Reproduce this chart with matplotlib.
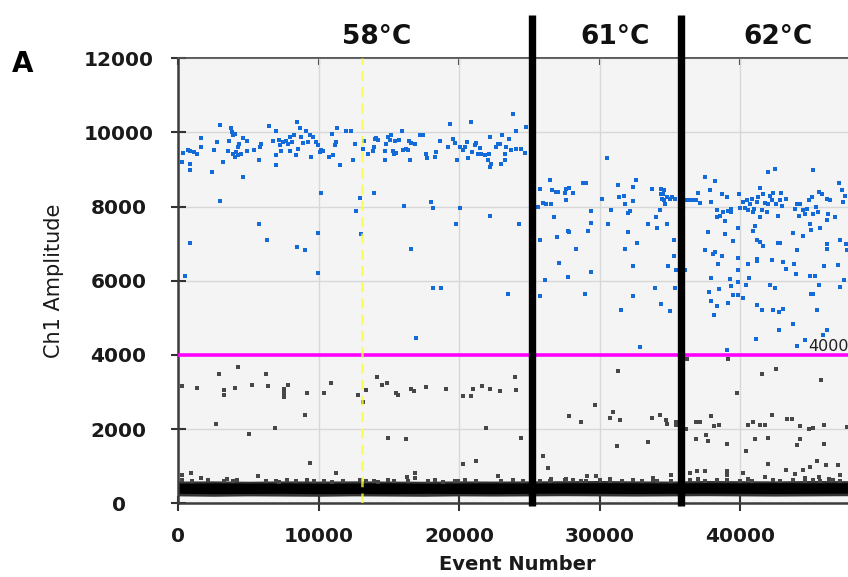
import matplotlib.pyplot as plt
import numpy as np

# droplet amplitudes (event number, Ch1 amplitude) for the three annealing runs
run_names = ['58°C', '61°C', '62°C']
run_breaks = [25220, 35780]
marker_event = 13090
threshold = 4000

x_ticks = [0, 10000, 20000, 30000, 40000]
y_ticks = [0, 2000, 4000, 6000, 8000, 10000, 12000]

blue_58 = [
    (340, 9440), (700, 9530), (870, 9500), (1170, 9470), (1340, 9420), (300, 9200), (870, 9160),
    (870, 8990), (1670, 9860), (1670, 9620), (2430, 8930), (2550, 9540), (2780, 9740), (3020, 10210),
    (3190, 9200), (3540, 9510), (3610, 9780), (3780, 10130), (3850, 10010), (3900, 9920), (4020, 9960),
    (3900, 9420), (4020, 9350), (4140, 9470), (4250, 9600), (4370, 9690), (4250, 9380), (4490, 9420),
    (4610, 8800), (4660, 9860), (4890, 9510), (4890, 9780), (5440, 9530), (5750, 9260), (5800, 9600),
    (5920, 9690), (6440, 10170), (6750, 9780), (6940, 9400), (6990, 10040), (6990, 9110), (7180, 9800),
    (7230, 9650), (7340, 9510), (7460, 9740), (7700, 9780), (7820, 9690), (7940, 9500), (7990, 9870),
    (8130, 9740), (8220, 9920), (8370, 9380), (8460, 10280), (8560, 9560), (8700, 10130), (8770, 9870),
    (8890, 9710), (9120, 10040), (9240, 9740), (9360, 9920), (9480, 9350), (9600, 9870), (9840, 9740),
    (9960, 9650), (10070, 9470), (10190, 9530), (10310, 9500), (10740, 9350), (10980, 9950), (11020, 9380),
    (11140, 9650), (11260, 9740), (11330, 10130), (11550, 9110), (11970, 10050), (12330, 10050),
    (12450, 9260), (12570, 9690), (13160, 9560), (13210, 9770), (13520, 9420),
    (13870, 9510), (13920, 9620), (13990, 9830), (14110, 9860), (14230, 9800), (14700, 9510),
    (14770, 9690), (14700, 9260), (14940, 9870), (15060, 9800), (15180, 9920), (15300, 9510),
    (15340, 9420), (15420, 9770), (15530, 9440), (15720, 9800), (15960, 10040), (16010, 9530),
    (16200, 9560), (16360, 9530), (16440, 9780), (16530, 9260), (16600, 9710), (16840, 9690),
    (17200, 9920), (17430, 9920), (17620, 9420), (17720, 9320), (18260, 9350), (18330, 9470),
    (18670, 9770), (19210, 9620), (19380, 10230), (19570, 9830), (19690, 9710), (19850, 9260),
    (20040, 9600), (20280, 9530), (20400, 9600), (20560, 9740), (20640, 9320), (20870, 10280),
    (20940, 9470), (21110, 9650), (21180, 9710), (21350, 9420), (21510, 9590), (21590, 9410),
    (21820, 9380), (22060, 9260), (22130, 9410), (22230, 9890), (22230, 9080), (22300, 9160),
    (22650, 9600), (22770, 9690), (22940, 9690), (23010, 9160), (23080, 9920), (23250, 9420),
    (23250, 9260), (23320, 9620), (23550, 9830), (23720, 9530), (23840, 10500), (24030, 10040),
    (24080, 9560), (24430, 9560), (24670, 9440), (24740, 10140),
    (3020, 8150), (5750, 7520), (6320, 7090), (8460, 6910), (9050, 6820), (9960, 7290), (10190, 8370),
    (9960, 6210), (870, 7020), (510, 6120), (12920, 8230), (12690, 7880), (12990, 7250), (13940, 8380),
    (16080, 8020), (17980, 8120), (18140, 7970), (20070, 7950), (19760, 7520), (22230, 7750),
    (24270, 7520), (16550, 6860), (18140, 5810), (18690, 5810), (23480, 5650), (16960, 4450),
]

blue_61 = [
    (25740, 8480), (26450, 8720), (26640, 8450), (26880, 8390), (27040, 8390), (27640, 8480),
    (27590, 8190), (27830, 8510), (25620, 7990), (25980, 8100), (26210, 8060), (26570, 8060),
    (26760, 7720), (25740, 7090), (27000, 7180), (27750, 7330), (27110, 6480), (27750, 6100),
    (26090, 6010), (25740, 5580), (30490, 9320), (27520, 8360), (28070, 8360), (28780, 8640),
    (29060, 8640), (30200, 8210), (30840, 7900), (31320, 8570), (31390, 8260), (31720, 8300),
    (31790, 8060), (32030, 7830), (32150, 7880), (32340, 8540), (32340, 8150), (32570, 8720),
    (33690, 8480), (34280, 7900), (34400, 8350), (34470, 8210), (34570, 8450), (34640, 8080),
    (34800, 8260), (34990, 8210), (35350, 8210), (29420, 7870), (29370, 7560), (27800, 7310),
    (29180, 7330), (28350, 6860), (30600, 7520), (32030, 7310), (32670, 7020), (31790, 6850),
    (33450, 7520), (34000, 7720), (34050, 7430), (34800, 7520), (35280, 7090), (34880, 6390),
    (32340, 6390), (29420, 6240), (28940, 5650), (32340, 5580), (33930, 5810), (34350, 5380),
    (35040, 5190), (31550, 5220), (32860, 4220), (35350, 5810), (35420, 6280), (34380, 8480),
    (34520, 8350), (34570, 8170), (35160, 8260), (35280, 6680),
]

blue_62 = [
    (36180, 8170), (36420, 8170), (36660, 8170), (36890, 8170), (37010, 8360), (37130, 8090),
    (37490, 8800), (37840, 8450), (37890, 8120), (38200, 8690), (38320, 7720), (38360, 7900),
    (38550, 7740), (38740, 8350), (38790, 7850), (38910, 7610), (39030, 8270), (39150, 7880),
    (39310, 7940), (39380, 7850), (39930, 8350), (39980, 7970), (40220, 8120), (40330, 7970),
    (40450, 8180), (40570, 7900), (40690, 8080), (40810, 8210), (40930, 7850), (40970, 7940),
    (41160, 8120), (41280, 8260), (41400, 8510), (41400, 7720), (41520, 7920), (41640, 8330),
    (41760, 8090), (41880, 7850), (41990, 8930), (41990, 8080), (42110, 8300), (42230, 8170),
    (42350, 8360), (42470, 9020), (42540, 8060), (42710, 7760), (42830, 8170), (42870, 8360),
    (42940, 8030), (43250, 8210), (43890, 7940), (44060, 8080), (44250, 8080), (44200, 7760),
    (44440, 7900), (44610, 7810), (44720, 7940), (44910, 8170), (45080, 8260), (45150, 8990),
    (45200, 7810), (45390, 7990), (45550, 7850), (45630, 8390), (45790, 8350), (46150, 8210),
    (46190, 7630), (46270, 7810), (46380, 8170), (46740, 7720), (47050, 8630), (47220, 8450),
    (47330, 8120), (47450, 8300),
    (37680, 7310), (38910, 7250), (39500, 7070), (39860, 7430), (40930, 7340), (41050, 7470),
    (38080, 6730), (41160, 7110), (41400, 7040), (41640, 6930), (42710, 7020), (42830, 7020),
    (44060, 6840), (43770, 7290), (44490, 7200), (44960, 7540), (45010, 7360), (45010, 5650),
    (45200, 5650), (45670, 7430), (46150, 7000), (46190, 6860), (45960, 6390), (46980, 6420),
    (47100, 7090), (47520, 7000), (47570, 6820), (45630, 5880), (47100, 5830), (47380, 6010),
    (40640, 6080), (36100, 6280),
    (37490, 6820), (38200, 6770), (38670, 6660), (38430, 6460), (39860, 6620), (39860, 6280),
    (40570, 6460), (41160, 6590), (41210, 6530), (42230, 6550), (43060, 6500), (43250, 6330),
    (43820, 6460), (43960, 6170), (44960, 6120), (45320, 6120), (37890, 6080), (39270, 6060),
    (39860, 5970), (40400, 5900), (39310, 5850), (39500, 5630), (39860, 5610), (40170, 5540),
    (42110, 5900), (42470, 5810), (38510, 5790), (37790, 5700), (41160, 5360), (41520, 5220),
    (42350, 5220), (42780, 5160), (43060, 5250), (45440, 5220), (37890, 5450), (38320, 5310),
    (38130, 5070), (39150, 5400), (43730, 4840), (42780, 4680), (41120, 4440), (44600, 4410),
    (44060, 4230), (46150, 4680), (45860, 4530), (39030, 4130),
]

# rain between the clusters
grey_rain = [
    (320, 3160), (1340, 3120), (2930, 3480), (3290, 3050), (3290, 2930), (4050, 3120), (4280, 3670),
    (5300, 3200), (6250, 3480), (6420, 3160), (7560, 3090), (7560, 2980), (7560, 2870), (7800, 3200),
    (9170, 2970), (10410, 2970), (10880, 3240), (12780, 2930), (13130, 2730), (13370, 3050),
    (14160, 3400), (14490, 3200), (14870, 3240), (15510, 2970), (15630, 2930), (2690, 2150),
    (5070, 1880), (6890, 2040), (9050, 2390), (9410, 1100), (14960, 1760), (16220, 1730), (250, 770),
    (910, 830), (1670, 680), (5660, 730), (6250, 590), (11240, 830),
    (16550, 3090), (16770, 3020), (17670, 3130), (19050, 3090), (20280, 2890), (20870, 2890),
    (20990, 3090), (21660, 3160), (22230, 3090), (22890, 3020), (23960, 3410), (24080, 3050),
    (21890, 2040), (24390, 1770), (20280, 1070), (21180, 1140), (16290, 710), (16890, 830),
    (16890, 670), (22770, 730),
    (25980, 1270), (26330, 950), (27800, 2360), (28700, 2190), (29650, 2660), (30720, 2310),
    (30960, 2460), (31430, 2240), (31310, 3560), (31200, 1540), (26570, 650), (27590, 650),
    (29130, 730), (29770, 730), (30720, 650), (33690, 2310), (34280, 2390), (34710, 2240),
    (34760, 2150), (35420, 2190), (35420, 2100), (33450, 1640), (35110, 770), (33810, 680),
    (36180, 3880), (39150, 3900), (41520, 3480), (42540, 3630), (45720, 3330), (39790, 2970),
    (36110, 2010), (36890, 2190), (37130, 2190), (37890, 2350), (38130, 2080), (38510, 2120),
    (36890, 1730), (37560, 1830), (37680, 1670), (39030, 1610), (40410, 1410), (40520, 2120),
    (40880, 2190), (41400, 2120), (41760, 2120), (42230, 2390), (42000, 1760), (41050, 1730),
    (43300, 2280), (43660, 2280), (44250, 2080), (44910, 2010), (45200, 2040), (45960, 2120),
    (44250, 1730), (44010, 1560), (45960, 1610), (42000, 1070), (43250, 910), (43890, 800),
    (44490, 910), (44960, 980), (45480, 1140), (46100, 1030), (46980, 1030), (36420, 830),
    (36940, 860), (37490, 860), (39030, 860), (39030, 760), (40170, 830), (41760, 710),
    (44610, 670), (45630, 710), (46340, 650), (47100, 770), (47620, 2060),
]

# droplets sitting just above the negative cluster
grey_edge = [
    (320, 620), (1030, 600), (2100, 640), (3290, 610), (3520, 650), (3880, 600), (4190, 630),
    (6960, 610), (7200, 580), (7750, 640), (8390, 600), (9170, 620), (9650, 590), (10410, 610),
    (10930, 580), (11710, 600), (12970, 620), (13370, 590), (13970, 610), (14200, 580), (14960, 640),
    (15390, 610), (16340, 600), (17790, 600), (18260, 630), (18860, 580), (19690, 610), (19920, 590),
    (20400, 640), (21230, 600), (23010, 590), (23840, 620), (24550, 600), (25740, 590), (26450, 610),
    (27520, 640), (28110, 620), (28700, 600), (29060, 590), (30010, 620), (30720, 600), (31620, 610),
    (32380, 630), (32980, 600), (33810, 640), (34050, 610), (35110, 590), (36420, 620), (37010, 650),
    (37490, 600), (38320, 640), (39030, 620), (39980, 610), (40570, 650), (40810, 600), (42350, 630),
    (42830, 600), (43780, 620), (44610, 590), (45200, 640), (45670, 600), (46620, 620), (47100, 600),
]

# negative cluster envelope
band_x = [0, 2500, 5000, 7500, 10000, 12500, 15000, 17500, 20000, 22500,
          25000, 27500, 30000, 32500, 35000, 37500, 40000, 42500, 45000, 47700]
core_lo = [270, 260, 265, 270, 260, 265, 260, 270, 265, 260, 270, 275, 270, 265, 270, 275, 270, 265, 270, 275]
core_hi = [540, 550, 545, 550, 540, 545, 550, 540, 545, 550, 545, 550, 555, 550, 545, 555, 550, 555, 550, 555]
halo_lo = [200, 190, 200, 195, 190, 200, 195, 190, 200, 195, 200, 205, 200, 195, 200, 205, 200, 195, 200, 205]
halo_hi = [600, 605, 595, 605, 600, 605, 600, 595, 605, 600, 605, 610, 615, 605, 600, 615, 610, 605, 615, 610]

W, H = 848, 577
fig = plt.figure(figsize=(W / 100, H / 100), dpi=100)
ax = fig.add_axes([178 / W, 73.7 / H, 670 / W, 445 / H])
ax.set_facecolor('#f4f4f4')
ax.set_xlim(0, 47670)
ax.set_ylim(0, 12000)
ax.grid(True, color='#d8d8d8', lw=1.0)
ax.set_axisbelow(True)

ax.fill_between(band_x, halo_lo, halo_hi, color='#333333', lw=0, zorder=2)
ax.fill_between(band_x, core_lo, core_hi, color='black', lw=0, zorder=2)

for pts, col in [(grey_edge, '#474747'), (grey_rain, '#474747'),
                 (blue_58, '#126bd8'), (blue_61, '#126bd8'), (blue_62, '#126bd8')]:
    xy = np.array(pts)
    ax.scatter(xy[:, 0], xy[:, 1], marker='s', s=11, color=col, lw=0, zorder=3)

ax.axhline(threshold, color='#ff00ff', lw=2.6, zorder=4)
ax.text(44820, 4230, str(threshold), fontsize=11.5, ha='left', va='center', color='#202020', zorder=6)
ax.axvline(marker_event, color='#ffff30', alpha=0.8, lw=1.8, ls=(0, (4, 2.5)), zorder=5)

for xb in run_breaks:
    ax.axvline(xb, ymin=-0.005, ymax=1.097, color='black', lw=5.3,
               solid_capstyle='butt', clip_on=False, zorder=7)

for name, xpos in zip(run_names, [14130, 31080, 42680]):
    ax.text(xpos, 1.047, name, transform=ax.get_xaxis_transform(), ha='center', va='center',
            fontsize=19, fontweight='bold', color='#111111')

for side in ['left', 'bottom']:
    ax.spines[side].set_color('#3c3c3c')
    ax.spines[side].set_linewidth(1.8)
ax.spines['top'].set_color('#555555')
ax.spines['top'].set_linewidth(1.2)
ax.spines['right'].set_visible(False)

ax.set_xticks(x_ticks, [str(v) for v in x_ticks], fontweight='bold')
ax.set_yticks(y_ticks, [str(v) for v in y_ticks], fontweight='bold', ha='center')
ax.tick_params(axis='both', direction='inout', length=10.8, width=1.5, color='#333333',
               labelsize=14.5, labelcolor='#1a1a1a')
ax.tick_params(axis='y', pad=37.4)
ax.tick_params(axis='x', pad=11.9)

top = ax.secondary_xaxis('top')
top.set_xticks(x_ticks, [''] * len(x_ticks))
top.tick_params(direction='in', length=5, width=1.5, color='#333333')
top.spines['top'].set_color('#555555')
top.spines['top'].set_linewidth(1.2)

fig.text(54 / W, 1 - 281 / H, 'Ch1 Amplitude', rotation=90, ha='center', va='center',
         fontsize=15, color='#1a1a1a')
fig.text(517 / W, 1 - 565 / H, 'Event Number', ha='center', va='center',
         fontsize=14, fontweight='bold', color='#1a1a1a')
fig.text(12 / W, 1 - 64 / H, 'A', ha='left', va='center', fontsize=20, fontweight='bold')

fig.savefig('out.png', dpi=100)
